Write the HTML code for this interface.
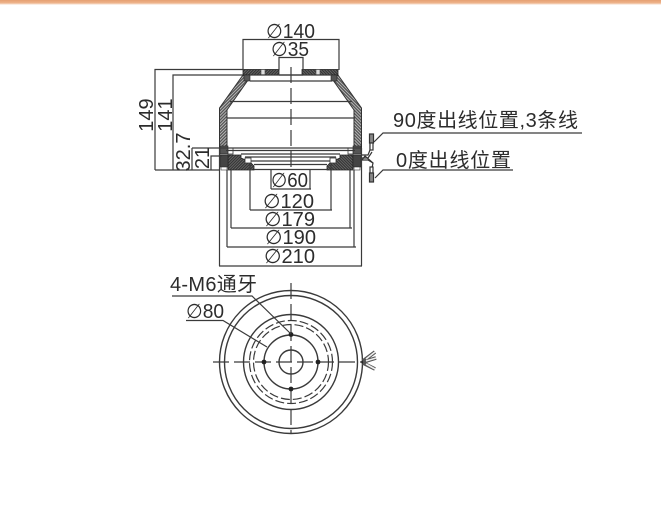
<!DOCTYPE html>
<html>
<head>
<meta charset="utf-8">
<style>
html,body{margin:0;padding:0;background:#fff;width:661px;height:525px;overflow:hidden}
svg{display:block}
text{font-family:"Liberation Sans","Noto Sans CJK SC",sans-serif;fill:#2c2c2c}
.d{font-family:"DejaVu Sans",sans-serif}
.l{stroke:#3a3a3a;stroke-width:1.2;fill:none}
.c{stroke:#3a3a3a;stroke-width:1.2;fill:none;stroke-dasharray:16 5}
</style>
</head>
<body>
<svg width="661" height="525" viewBox="0 0 661 525" xmlns="http://www.w3.org/2000/svg">
<defs>
<linearGradient id="band" x1="0" y1="0" x2="0" y2="1">
<stop offset="0" stop-color="#e6a071"/><stop offset=".6" stop-color="#eeb48c"/><stop offset="1" stop-color="#fff"/>
</linearGradient>
<pattern id="h" width="2.2" height="2.2" patternUnits="userSpaceOnUse" patternTransform="rotate(45)">
<rect width="2.2" height="2.2" fill="#bbb"/><rect width="1.3" height="2.2" fill="#555"/>
</pattern>
<pattern id="k" width="2" height="2" patternUnits="userSpaceOnUse" patternTransform="rotate(45)">
<rect width="2" height="2" fill="#777"/><rect width="1.3" height="2" fill="#333"/>
</pattern>
<g id="half">
<path d="M243 75 L219.5 108 L219.5 148 L227 148 L227 110 L248 80 Z" fill="url(#h)" stroke="#333" stroke-width="1"/>
<rect x="243" y="69.5" width="36" height="5.5" fill="url(#k)" stroke="#222" stroke-width=".8"/>
<rect x="261" y="69.5" width="4" height="5.5" fill="#ddd" stroke="#444" stroke-width=".6"/>
<rect x="244" y="75" width="6" height="6" fill="#555" stroke="#222" stroke-width=".6"/>
<path d="M228 155 L241 155 L241 158 L250 162 L254 166 L254 170 L228 170 Z" fill="url(#k)" stroke="#222" stroke-width=".8"/>
<rect x="220" y="146" width="8" height="8" fill="#555" stroke="#222" stroke-width=".6"/>
<rect x="220" y="155" width="8" height="12" fill="#444" stroke="#222" stroke-width=".6"/>
<rect x="221" y="167" width="6" height="3" fill="#fff" stroke="#333" stroke-width=".6"/>
<rect x="245" y="158" width="6" height="5" fill="#fff" stroke="#333" stroke-width=".8"/>
<rect x="228" y="148" width="5" height="6" fill="#fff" stroke="#333" stroke-width=".8"/>
<line class="l" x1="231" y1="170" x2="231" y2="228"/>
<line class="l" x1="227" y1="170" x2="227" y2="247"/>
<line class="l" x1="219.5" y1="148" x2="219.5" y2="266"/>
<line class="l" x1="250" y1="163" x2="250" y2="210"/>
<line class="l" x1="271" y1="170" x2="271" y2="189"/>
</g>
</defs>

<rect x="0" y="0" width="661" height="5" fill="url(#band)"/>

<!-- side view -->
<g id="side">
<use href="#half"/>
<use href="#half" transform="matrix(-1 0 0 1 581 0)"/>
<line class="l" x1="250" y1="81" x2="332" y2="81"/>
<line class="l" x1="250" y1="75" x2="332" y2="75"/>
<line class="l" x1="230" y1="101.5" x2="352" y2="101.5"/>
<line class="l" x1="227" y1="118" x2="355" y2="118"/>
<line class="l" x1="219" y1="148" x2="362" y2="148"/>
<line class="l" x1="226" y1="150.5" x2="355" y2="150.5"/>
<line class="l" x1="241" y1="154" x2="340" y2="154"/>
<line class="l" x1="245" y1="157" x2="336" y2="157"/>
<line class="l" x1="251" y1="161" x2="330" y2="161"/>
<line class="l" x1="254" y1="164.5" x2="327" y2="164.5"/>
<line class="l" x1="254" y1="169.5" x2="328" y2="169.5"/>
<path class="l" d="M279 70 L279 57.5 L303 57.5 L303 70"/>
<line class="l" x1="279" y1="75" x2="303" y2="75"/>
<line class="c" x1="291" y1="67" x2="291" y2="172"/>
</g>

<!-- top dims -->
<path class="l" d="M243 70 L243 39.5 L339 39.5 L339 70"/>

<!-- left dims -->
<path class="l" d="M243 69.5 L155 69.5 L155 170"/>
<path class="l" d="M243 75 L173 75 L173 170"/>
<line class="l" x1="155" y1="170" x2="220" y2="170"/>
<line class="l" x1="192" y1="148" x2="192" y2="170"/>
<line class="l" x1="192" y1="148" x2="220" y2="148"/>
<path class="l" d="M222 156 L211 156 L211 170"/>

<text font-size="20" transform="translate(153 115) rotate(-90)" text-anchor="middle">149</text>
<text font-size="20" transform="translate(172 115) rotate(-90)" text-anchor="middle">141</text>
<text font-size="20" transform="translate(190 152) rotate(-90)" text-anchor="middle">32.7</text>
<text font-size="20" transform="translate(209 158) rotate(-90)" text-anchor="middle">21</text>

<!-- bottom dim lines -->
<line class="l" x1="271" y1="189" x2="311" y2="189"/>
<line class="l" x1="250" y1="210" x2="332" y2="210"/>
<line class="l" x1="231" y1="228" x2="352" y2="228"/>
<line class="l" x1="227" y1="247" x2="356" y2="247"/>
<line class="l" x1="219" y1="266" x2="362" y2="266"/>

<!-- diameter labels -->
<text x="266" y="38" font-size="20" textLength="49" lengthAdjust="spacingAndGlyphs"><tspan class="d">∅</tspan>140</text>
<text x="271" y="56" font-size="20" textLength="38" lengthAdjust="spacingAndGlyphs"><tspan class="d">∅</tspan>35</text>
<text x="271" y="187" font-size="20" textLength="37" lengthAdjust="spacingAndGlyphs"><tspan class="d">∅</tspan>60</text>
<text x="263" y="208" font-size="20" textLength="51" lengthAdjust="spacingAndGlyphs"><tspan class="d">∅</tspan>120</text>
<text x="264" y="226" font-size="20" textLength="51" lengthAdjust="spacingAndGlyphs"><tspan class="d">∅</tspan>179</text>
<text x="265" y="244" font-size="20" textLength="51" lengthAdjust="spacingAndGlyphs"><tspan class="d">∅</tspan>190</text>
<text x="264" y="263" font-size="20" textLength="51" lengthAdjust="spacingAndGlyphs"><tspan class="d">∅</tspan>210</text>

<!-- connectors -->
<g stroke="#333" fill="none" stroke-width="1.2">
<path d="M362 155 L368 155 L370 150 L370 142"/>
<path d="M362 158 L368 158 L372 152"/>
<rect x="369.5" y="134" width="4" height="9" fill="#888"/>
<rect x="370" y="143" width="3" height="7" fill="#fff"/>
<path d="M362 160 L365 156 L373 163 L372 168"/>
<path d="M362 160 L368 160 L373 163"/>
<rect x="370" y="167" width="3" height="6" fill="#fff"/>
<rect x="369.5" y="173" width="4" height="9" fill="#888"/>
</g>

<!-- right labels -->
<text x="393" y="127" font-size="20" textLength="185" lengthAdjust="spacing">90度出线位置,3条线</text>
<path class="l" d="M374 142 L383 133 L582 133"/>
<text x="396" y="167" font-size="20" textLength="115" lengthAdjust="spacing">0度出线位置</text>
<path class="l" d="M375 178 L383 170 L513 170"/>

<!-- plan view -->
<g fill="none" stroke="#3a3a3a">
<circle cx="291" cy="362" r="71.5" stroke-width="1.4"/>
<circle cx="291" cy="362" r="66.5" stroke-width="1.4"/>
<circle cx="291" cy="362" r="47.5" stroke-width="1.4"/>
<circle cx="291" cy="362" r="41.5" stroke-width="1.2" stroke-dasharray="9 3"/>
<circle cx="291" cy="362" r="37.5" stroke-width="1.2" stroke-dasharray="9 3"/>
<circle cx="291" cy="362" r="27" stroke-width="1.4"/>
<circle cx="291" cy="362" r="12" stroke-width="1.4"/>
</g>
<line class="c" x1="213" y1="362" x2="368" y2="362"/>
<line class="c" x1="291" y1="283" x2="291" y2="433"/>
<g fill="#222">
<circle cx="291" cy="334.5" r="2.4"/>
<circle cx="291" cy="389" r="2.4"/>
<circle cx="264" cy="362" r="2.4"/>
<circle cx="318" cy="362" r="2.4"/>
<circle cx="363" cy="362" r="1.8"/>
</g>
<!-- wires -->
<g fill="none">
<path d="M363 361 L375 352 M363 362 L376 358 M363 363 L375 369" stroke="#555" stroke-width="3.6"/>
<path d="M366 359 L375 352 M366 361 L376 358 M366 364 L375 369" stroke="#eee" stroke-width="1.6"/>
</g>

<!-- plan labels -->
<text x="170" y="291" font-size="20" textLength="87" lengthAdjust="spacing">4-M6通牙</text>
<path class="l" d="M172 296 L252 296 L291 334"/>
<text x="186" y="318" font-size="20" textLength="38" lengthAdjust="spacingAndGlyphs"><tspan class="d">∅</tspan>80</text>
<path class="l" d="M186 320.5 L223 320.5 L267 347"/>
</svg>
</body>
</html>
